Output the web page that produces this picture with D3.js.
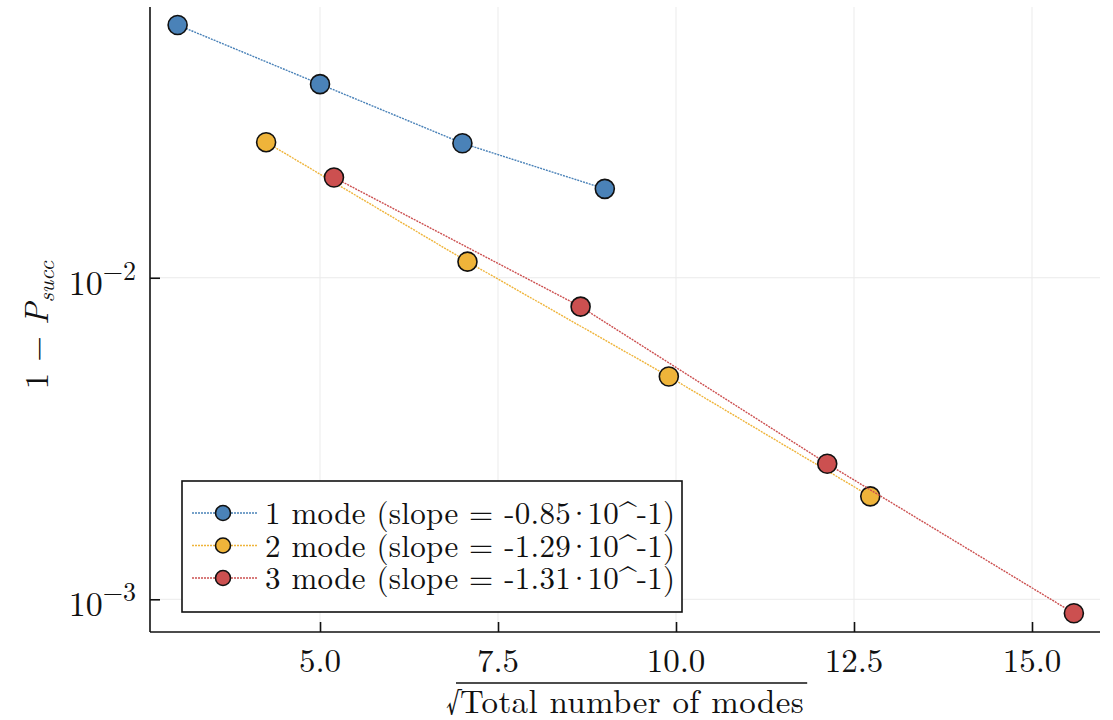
<!DOCTYPE html>
<html>
<head>
<meta charset="utf-8">
<script src="https://cdn.jsdelivr.net/npm/d3@7"></script>
<style>
	html, body {margin: 0; padding: 0; background: #fff;}
	svg {display: block;}
	text {font-family: "Latin Modern Roman", "Liberation Serif", serif; fill: #111;}
</style>
</head>
<body>
<svg id="chart" width="1113" height="720"></svg>
<script>
// sqrt(total number of modes) for each series
var oneModeX = [3, 5, 7, 9];
var twoModeX = [4.243, 7.071, 9.899, 12.728];
var threeModeX = [5.196, 8.660, 12.124, 15.588];

// 1 - P_succ
var oneModeY = [0.0611, 0.0400, 0.0262, 0.0189];
var twoModeY = [0.0264, 0.01122, 0.00493, 0.00209];
var threeModeY = [0.0205, 0.00813, 0.00264, 0.000905];

var seriesNames = [
	'1 mode (slope = -0.85\u00b710^-1)',
	'2 mode (slope = -1.29\u00b710^-1)',
	'3 mode (slope = -1.31\u00b710^-1)'];
var seriesColors = ['#4a82b8', '#efb43a', '#cc5050'];

var xTicks = [5, 7.5, 10, 12.5, 15];
var yTicks = [1e-2, 1e-3];
var yTickExp = ['\u22122', '\u22123'];

(function() {
	'use strict';

	var series = [
		{name: seriesNames[0], color: seriesColors[0], xs: oneModeX, ys: oneModeY},
		{name: seriesNames[1], color: seriesColors[1], xs: twoModeX, ys: twoModeY},
		{name: seriesNames[2], color: seriesColors[2], xs: threeModeX, ys: threeModeY}];

	var left = 150, right = 1100, top = 7, bottom = 632;

	var x = d3.scaleLinear()
		.domain([2.612, 15.955])
		.range([left, right]);
	var y = d3.scaleLog()
		.domain([Math.pow(10, -3.1017), Math.pow(10, -1.158)])
		.range([bottom, top]);

	var svg = d3.select('#chart');

	// grid
	var grid = svg.append('g').attr('class', 'grid');
	grid.selectAll('line.gx').data(xTicks).enter().append('line')
		.attr('x1', function(d) {return x(d);})
		.attr('x2', function(d) {return x(d);})
		.attr('y1', top).attr('y2', bottom)
		.style('stroke', '#ebebeb').style('stroke-width', 1);
	grid.selectAll('line.gy').data(yTicks).enter().append('line')
		.attr('x1', left).attr('x2', right)
		.attr('y1', function(d) {return y(d);})
		.attr('y2', function(d) {return y(d);})
		.style('stroke', '#ebebeb').style('stroke-width', 1);

	// axes (ticks point inward, like the original)
	var xAxis = svg.append('g')
		.attr('transform', 'translate(0,' + bottom + ')')
		.call(d3.axisTop(x).tickValues(xTicks).tickSize(10).tickFormat(''));
	xAxis.select('.domain').attr('d', 'M' + left + ',0H' + right);
	svg.append('g').selectAll('text').data(xTicks).enter().append('text')
		.attr('x', function(d) {return x(d);})
		.attr('y', 672)
		.attr('text-anchor', 'middle')
		.style('font-size', '33px')
		.text(function(d) {return d3.format('.1f')(d);});

	var yAxis = svg.append('g')
		.attr('transform', 'translate(' + left + ',0)')
		.call(d3.axisRight(y).tickValues(yTicks).tickSize(10).tickFormat(''));
	yAxis.select('.domain').attr('d', 'M0,' + top + 'V' + bottom);
	svg.selectAll('.tick line, .domain').style('stroke', '#111').style('stroke-width', 1.6);

	var yLabels = svg.append('g').selectAll('text').data(yTicks).enter().append('text')
		.attr('x', 136)
		.attr('y', function(d) {return y(d) + 17;})
		.attr('text-anchor', 'end')
		.style('font-size', '34px');
	yLabels.append('tspan').text('10');
	yLabels.append('tspan')
		.attr('dy', -15)
		.style('font-size', '26px')
		.text(function(d, i) {return yTickExp[i];});

	// lines and markers
	var line = d3.line()
		.x(function(d) {return x(d[0]);})
		.y(function(d) {return y(d[1]);});

	var groups = svg.append('g').selectAll('g').data(series).enter().append('g');
	groups.append('path')
		.attr('d', function(s) {return line(d3.zip(s.xs, s.ys));})
		.style('fill', 'none')
		.style('stroke', function(s) {return s.color;})
		.style('stroke-width', 1.4)
		.style('stroke-dasharray', '2,1');
	groups.selectAll('circle')
		.data(function(s) {
			return d3.zip(s.xs, s.ys).map(function(p) {return {p: p, color: s.color};});})
		.enter().append('circle')
		.attr('cx', function(d) {return x(d.p[0]);})
		.attr('cy', function(d) {return y(d.p[1]);})
		.attr('r', 9.5)
		.style('fill', function(d) {return d.color;})
		.style('stroke', '#111')
		.style('stroke-width', 1.6);

	// legend
	var legend = svg.append('g');
	legend.append('rect')
		.attr('x', 182).attr('y', 481)
		.attr('width', 500).attr('height', 131)
		.style('fill', '#fff')
		.style('stroke', '#111')
		.style('stroke-width', 1.6);
	var rows = legend.selectAll('g.row').data(series).enter().append('g')
		.attr('transform', function(s, i) {return 'translate(0,' + (513 + i * 32.5) + ')';});
	rows.append('line')
		.attr('x1', 192).attr('x2', 257)
		.style('stroke', function(s) {return s.color;})
		.style('stroke-width', 1.4)
		.style('stroke-dasharray', '2,1');
	rows.append('circle')
		.attr('cx', 223).attr('r', 7.5)
		.style('fill', function(s) {return s.color;})
		.style('stroke', '#111')
		.style('stroke-width', 1.6);
	// the centre dot sits tight between the numbers in the original
	var labels = rows.append('text')
		.attr('x', 265).attr('y', 11)
		.style('font-size', '31px')
		.style('letter-spacing', '0.3px');
	labels.append('tspan').text(function(s) {return s.name.split('\u00b7')[0];});
	labels.append('tspan').attr('dx', -4).text('\u00b7');
	labels.append('tspan').attr('dx', -4).text(function(s) {return s.name.split('\u00b7')[1];});

	// axis titles
	var xTitle = svg.append('g');
	xTitle.append('text')
		.attr('x', 446).attr('y', 712)
		.style('font-size', '31px')
		.text('\u221a');
	var xText = xTitle.append('text')
		.attr('x', 460).attr('y', 713)
		.style('font-size', '33px')
		.style('letter-spacing', '0.4px')
		.text('Total number of modes');
	var len = xText.node().getComputedTextLength();
	xTitle.append('line')
		.attr('x1', 456).attr('x2', 460 + len + 3)
		.attr('y1', 683).attr('y2', 683)
		.style('stroke', '#111').style('stroke-width', 1.4);

	var yTitle = svg.append('text')
		.attr('transform', 'translate(48,325) rotate(-90)')
		.attr('text-anchor', 'middle')
		.style('font-size', '33px');
	yTitle.append('tspan').text('1 \u2212 ');
	yTitle.append('tspan').style('font-style', 'italic').text('P');
	yTitle.append('tspan')
		.attr('dy', 6)
		.style('font-style', 'italic')
		.style('font-size', '23px')
		.text('succ');
})();
</script>
</body>
</html>
